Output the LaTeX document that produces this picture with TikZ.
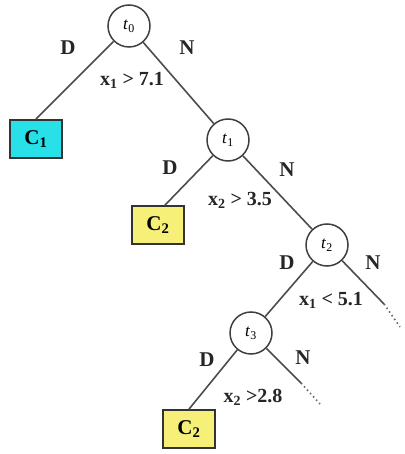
\documentclass[tikz,border=0pt]{standalone}
\usepackage{fontspec}
\setmainfont{Liberation Serif}
\begin{document}
\begin{tikzpicture}[x=1pt,y=-1pt,
  lbl/.style={font=\fontsize{21}{23}\selectfont\bfseries, text=black!85, inner sep=0pt},
  cond/.style={font=\fontsize{20}{22}\selectfont\bfseries, text=black!85, inner sep=0pt},
  tnode/.style={circle, draw=black!75, line width=1.5pt, minimum size=42pt, inner sep=0pt, fill=white,
    font=\fontsize{17}{19}\selectfont},
  leaf/.style={rectangle, draw=black!80, line width=1.8pt, minimum width=52pt, minimum height=38pt, inner sep=0pt,
    font=\fontsize{21}{23}\selectfont\bfseries},
  edge/.style={draw=black!70, line width=1.6pt},
  dots/.style={draw=black!60, line width=1.6pt, dash pattern=on 1.5pt off 3pt}
]
\useasboundingbox (0,0) rectangle (404,454);
\definecolor{cyanfill}{RGB}{40,225,232}
\definecolor{yellowfill}{RGB}{246,240,120}

\node[tnode] (t0) at (129,26) {\textit{t}\textsubscript{0}};
\node[tnode] (t1) at (228,140) {\textit{t}\textsubscript{1}};
\node[tnode] (t2) at (327,245) {\textit{t}\textsubscript{2}};
\node[tnode] (t3) at (251,333) {\textit{t}\textsubscript{3}};

\node[leaf, fill=cyanfill] (c1) at (36,139) {C\textsubscript{1}};
\node[leaf, fill=yellowfill] (c2a) at (158,225) {C\textsubscript{2}};
\node[leaf, fill=yellowfill] (c2b) at (189,429) {C\textsubscript{2}};

\coordinate (n2mid) at (384,304);
\coordinate (n2end) at (400,327);
\coordinate (n3mid) at (301,383);
\coordinate (n3end) at (320,404);

\draw[edge] (t0) -- (c1.north);
\draw[edge] (t0) -- (t1);
\draw[edge] (t1) -- ([xshift=7pt]c2a.north);
\draw[edge] (t1) -- (t2);
\draw[edge] (t2) -- (t3);
\draw[edge] (t2) -- (n2mid);
\draw[dots] (n2mid) -- (n2end);
\draw[edge] (t3) -- (c2b.north);
\draw[edge] (t3) -- (n3mid);
\draw[dots] (n3mid) -- (n3end);

\node[lbl] (d0) at (68,48) {D};
\node[lbl] (m0) at (187,48) {N};
\node[cond] (k0) at (132,80) {x\textsubscript{1} > 7.1};

\node[lbl] (d1) at (170,168) {D};
\node[lbl] (m1) at (287,170) {N};
\node[cond] (k1) at (240,200) {x\textsubscript{2} > 3.5};

\node[lbl] (d2) at (287,263) {D};
\node[lbl] (m2) at (373,263) {N};
\node[cond] (k2) at (331,300) {x\textsubscript{1} < 5.1};

\node[lbl] (d3) at (207,360) {D};
\node[lbl] (m3) at (303,358) {N};
\node[cond] (k3) at (253,397) {x\textsubscript{2} >2.8};
\end{tikzpicture}
\end{document}
